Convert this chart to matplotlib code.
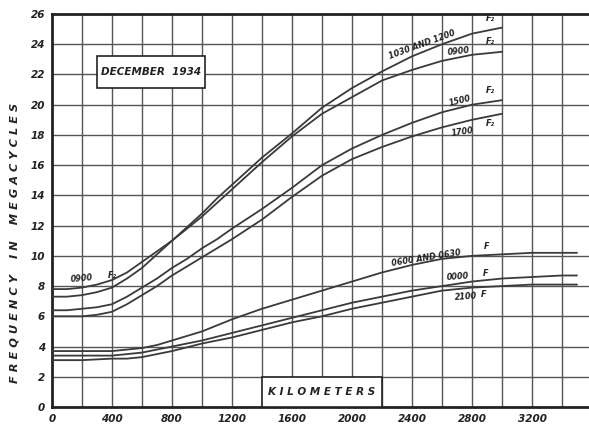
import numpy as np
import matplotlib
matplotlib.use("Agg")
import matplotlib.pyplot as plt
from matplotlib.patches import Rectangle

# ------------------------------------------------------------
# data (km, megacycles)
# ------------------------------------------------------------
km_f2 = [0, 100, 200, 300, 400, 500, 600, 700, 800, 900, 1000, 1100, 1200,
         1400, 1600, 1800, 2000, 2200, 2400, 2600, 2800, 3000]
f2_1030_1200 = [7.3, 7.3, 7.4, 7.6, 7.9, 8.5, 9.2, 10.1, 11.0, 11.9, 12.8, 13.8, 14.7,
                16.5, 18.1, 19.8, 21.1, 22.2, 23.2, 24.0, 24.7, 25.1]
f2_0900 = [7.8, 7.8, 7.9, 8.1, 8.4, 8.9, 9.6, 10.3, 11.0, 11.8, 12.6, 13.5, 14.4,
           16.2, 17.9, 19.4, 20.5, 21.6, 22.3, 22.9, 23.3, 23.5]
f2_1500 = [6.4, 6.4, 6.5, 6.6, 6.8, 7.3, 7.9, 8.5, 9.2, 9.8, 10.5, 11.1, 11.8,
           13.1, 14.5, 16.0, 17.1, 18.0, 18.8, 19.5, 20.0, 20.3]
f2_1700 = [6.0, 6.0, 6.0, 6.1, 6.3, 6.8, 7.4, 8.0, 8.7, 9.3, 9.9, 10.5, 11.1,
           12.4, 13.9, 15.3, 16.4, 17.2, 17.9, 18.5, 19.0, 19.4]

km_f = [0, 200, 400, 500, 600, 700, 800, 900, 1000, 1200, 1400, 1600, 1800, 2000,
        2200, 2400, 2600, 2700, 2800, 2900, 3000, 3200, 3400, 3500]
f_0600_0630 = [3.7, 3.7, 3.7, 3.8, 3.9, 4.1, 4.4, 4.7, 5.0, 5.8, 6.5, 7.1, 7.7, 8.3,
               8.9, 9.4, 9.8, 9.9, 10.0, 10.05, 10.1, 10.2, 10.2, 10.2]
f_0000 = [3.4, 3.4, 3.4, 3.5, 3.6, 3.8, 4.0, 4.2, 4.4, 4.9, 5.4, 5.9, 6.4, 6.9,
          7.3, 7.7, 8.0, 8.15, 8.3, 8.4, 8.5, 8.6, 8.7, 8.7]
f_2100 = [3.1, 3.1, 3.2, 3.2, 3.3, 3.5, 3.7, 3.95, 4.2, 4.6, 5.1, 5.6, 6.0, 6.5,
          6.9, 7.3, 7.7, 7.8, 7.9, 7.95, 8.0, 8.1, 8.1, 8.1]

x_ticks = [0, 400, 800, 1200, 1600, 2000, 2400, 2800, 3200]
y_ticks = list(range(0, 27, 2))

# ------------------------------------------------------------
# figure
# ------------------------------------------------------------
LETTER = dict(family="DejaVu Sans", style="oblique", weight="bold", color="#222222")
INK = "#3a3a3a"

fig = plt.figure(figsize=(5.89, 4.25), dpi=100)
ax = fig.add_axes([52 / 589, 1 - 407 / 425, 1 - 52 / 589, (407 - 14) / 425])
ax.set_xlim(0, 3580)
ax.set_ylim(0, 26)

# grid every 200 km / 2 Mc
for gx in range(200, 3600, 200):
    ax.axvline(gx, color="#555555", lw=1.0, zorder=1)
for gy in range(2, 26, 2):
    ax.axhline(gy, color="#555555", lw=1.0, zorder=1)

for s in ["left", "bottom", "top"]:
    ax.spines[s].set_linewidth(2.0)
    ax.spines[s].set_color("#222222")
ax.spines["right"].set_visible(False)

ax.set_xticks(x_ticks)
ax.set_yticks(y_ticks)
ax.set_xticklabels([str(v) for v in x_ticks], fontsize=7.5, **LETTER)
ax.set_yticklabels([str(v) for v in y_ticks], fontsize=7.5, **LETTER)
ax.tick_params(length=0, pad=5)

curves = [(km_f2, f2_1030_1200), (km_f2, f2_0900), (km_f2, f2_1500), (km_f2, f2_1700),
          (km_f, f_0600_0630), (km_f, f_0000), (km_f, f_2100)]
for xs, ys in curves:
    ax.plot(xs, ys, color=INK, lw=1.3, zorder=3, solid_capstyle="round",
            solid_joinstyle="round")

# curve labels
lab = dict(fontsize=5.8, zorder=5, **LETTER)
ax.text(120, 8.25, "0900", rotation=5, **lab)
ax.text(370, 8.55, "F₂", rotation=0, **lab)
ax.text(2240, 23.0, "1030 AND 1200", rotation=20, **lab)
ax.text(2890, 25.55, "F₂", **lab)
ax.text(2630, 23.3, "0900", rotation=6, **lab)
ax.text(2890, 24.0, "F₂", **lab)
ax.text(2640, 19.9, "1500", rotation=14, **lab)
ax.text(2890, 20.8, "F₂", **lab)
ax.text(2660, 17.9, "1700", rotation=8, **lab)
ax.text(2890, 18.6, "F₂", **lab)
ax.text(2260, 9.3, "0600 AND 0630", rotation=9, **lab)
ax.text(2880, 10.45, "F", **lab)
ax.text(2630, 8.4, "0000", rotation=4, **lab)
ax.text(2870, 8.65, "F", **lab)
ax.text(2680, 7.05, "2100", rotation=4, **lab)
ax.text(2860, 7.3, "F", **lab)

# boxed captions
ax.add_patch(Rectangle((300, 21.1), 720, 2.1, facecolor="white", edgecolor="#222222", lw=1.2, zorder=6))
ax.text(660, 22.15, "DECEMBER  1934", ha="center", va="center", fontsize=7.5, zorder=7, **LETTER)
ax.add_patch(Rectangle((1400, 0), 800, 2.0, facecolor="white", edgecolor="#222222", lw=1.2, zorder=6))
ax.text(1800, 1.0, "K I L O M E T E R S", ha="center", va="center", fontsize=7.5, zorder=7, **LETTER)

fig.text(15 / 589, 1 - 243 / 425, "F R E Q U E N C Y    I N    M E G A C Y C L E S",
         rotation=90, ha="center", va="center", fontsize=8.2, **LETTER)

fig.savefig("out.png", dpi=100)
